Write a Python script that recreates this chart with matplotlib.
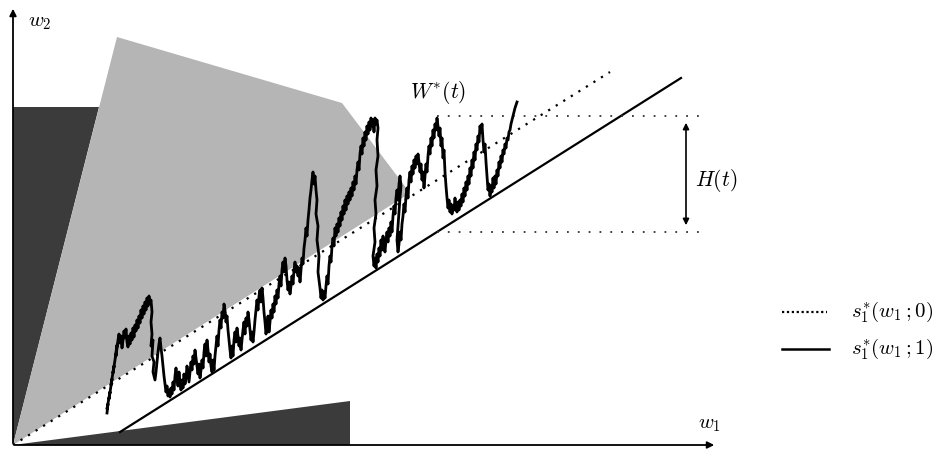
import matplotlib
matplotlib.use("Agg")
import matplotlib.pyplot as plt
from matplotlib.patches import Polygon

plt.rcParams['mathtext.fontset'] = 'cm'

# --- schematic geometry (pixel-like units, y measured downward) ---
dark_left = [(13, 107), (99, 107), (13, 445)]
gray_region = [(13, 445), (117, 37), (342, 103), (410, 193)]
dark_bottom = [(13, 445), (350, 401), (350, 445)]
s0_line_x = [13, 610]
s0_line_y = [445, 72]
s1_line_x = [120, 681]
s1_line_y = [432, 78]
w_star_y = 116
h_low_y = 232
h_x = [437, 702]
arrow_x = 686

# --- path of W(t), piece by piece ---
walk_x_a = [107,108,107,109,110,109,111,112,111,113,114,113,115,116,117,116,118,119,120,121,122,123,124,125,126,127,128,129,130,131,132,133,134,135,136,137,138,139,140,141,142,143,144,145,146,147,148,149,150,151,152]
walk_y_a = [413,404,409,398,392,399,386,379,385,372,366,373,360,352,345,356,340,334,343,336,348,340,331,338,329,342,347,336,344,333,340,328,337,325,331,320,328,316,323,310,318,306,314,302,310,298,306,296,303,300,312]
walk_x_b = [151,152,151,153,152,154,153,155,156,157,158,159,160,161,162,163,164,165,166,167,168,169,170]
walk_y_b = [322,334,346,340,356,362,372,380,372,362,352,344,338,348,356,366,376,384,392,386,396,390,397]
walk_x_c = list(range(171, 231))
walk_y_c = [388,394,382,390,376,368,378,386,372,382,390,380,388,374,384,378,366,374,382,372,362,370,356,364,350,358,366,374,364,378,370,360,368,352,344,356,340,350,362,354,366,372,360,370,356,346,336,346,330,320,328,312,318,304,310,322,316,330,340,350]
walk_x_d = list(range(231, 318)) + [316,318,317,319,318,320,321]
walk_y_d = [358,346,356,340,332,342,328,336,346,338,350,340,330,322,334,318,326,312,320,330,340,332,342,332,320,310,300,310,296,290,302,288,298,312,322,334,326,316,332,322,310,318,304,312,296,304,290,298,284,276,286,270,262,272,258,266,280,290,282,294,286,276,284,270,262,272,266,276,268,282,270,258,264,248,240,228,236,220,210,198,190,180,172,184,176,190,200,214,226,240,256,272,288,298]
walk_x_e = list(range(322, 379))
walk_y_e = [290,300,292,298,286,276,284,266,256,262,246,238,246,228,236,224,232,218,226,212,220,206,214,200,210,196,204,192,200,188,196,182,190,176,184,170,162,170,154,146,154,138,146,132,140,126,134,122,130,118,126,120,132,118,124,120,128]
walk_x_f = [377,378,376,377,375,376,374,375,373,374] + list(range(375, 402)) + [400,399,398,397] + list(range(398, 439))
walk_y_f = [140,156,170,186,200,214,228,242,256,266,258,268,254,262,248,256,240,250,236,246,252,240,232,242,228,236,222,232,216,206,214,198,190,200,184,176,186,198,212,226,240,252,244,232,240,224,216,204,212,196,188,198,180,172,182,166,174,160,168,156,164,154,162,172,164,180,172,188,176,164,172,156,146,154,138,146,130,138,124,130,118,126]
walk_x_g = list(range(439, 518))
walk_y_g = [136,128,146,138,158,150,172,186,198,208,200,212,204,214,206,210,198,208,212,202,210,200,206,194,202,188,196,182,190,176,184,168,176,160,168,152,160,144,150,136,142,126,132,124,140,152,144,162,176,190,184,196,186,192,178,188,176,184,170,176,162,168,156,162,150,154,144,148,138,140,132,130,124,120,116,112,108,105,102]

walk_x = walk_x_a + walk_x_b + walk_x_c + walk_x_d + walk_x_e + walk_x_f + walk_x_g
walk_y = walk_y_a + walk_y_b + walk_y_c + walk_y_d + walk_y_e + walk_y_f + walk_y_g

legend_labels = [r'$s_1^{*}(w_1\,;0)$', r'$s_1^{*}(w_1\,;1)$']

fig = plt.figure(figsize=(9.35, 4.55), dpi=100)
ax = fig.add_axes([0, 0, 1, 1])
ax.set_xlim(0, 935)
ax.set_ylim(455, 0)
ax.axis('off')

ax.add_patch(Polygon(dark_left, closed=True, facecolor='#3b3b3b', edgecolor='none', zorder=1))
ax.add_patch(Polygon(gray_region, closed=True, facecolor='#b5b5b5', edgecolor='none', zorder=2))
ax.add_patch(Polygon(dark_bottom, closed=True, facecolor='#3b3b3b', edgecolor='none', zorder=2))

dot = (0, (1, 3))
ax.plot(s0_line_x, s0_line_y, color='black', lw=1.6, linestyle=dot, zorder=3)
ax.plot(s1_line_x, s1_line_y, color='black', lw=1.6, zorder=3)
ax.plot(h_x, [w_star_y, w_star_y], color='#333333', lw=1.3, linestyle=(0, (1, 5)), zorder=3)
ax.plot(h_x, [h_low_y, h_low_y], color='#333333', lw=1.3, linestyle=(0, (1, 5)), zorder=3)

ax.plot(walk_x, walk_y, color='black', lw=2.0, zorder=4, solid_joinstyle='round')

# axes arrows
ax.annotate('', xy=(717, 445), xytext=(12, 445),
            arrowprops=dict(arrowstyle='-|>', color='black', lw=1.3, mutation_scale=10), zorder=5)
ax.annotate('', xy=(13, 6), xytext=(13, 446),
            arrowprops=dict(arrowstyle='-|>', color='black', lw=1.3, mutation_scale=10), zorder=5)

# H(t) arrow
ax.annotate('', xy=(arrow_x, w_star_y + 4), xytext=(arrow_x, h_low_y - 4),
            arrowprops=dict(arrowstyle='<|-|>', color='black', lw=1.2, mutation_scale=9), zorder=5)

ax.text(28, 22, r'$w_2$', fontsize=15, ha='left', va='center')
ax.text(698, 424, r'$w_1$', fontsize=15, ha='left', va='center')
ax.text(438, 93, r'$W^{*}(t)$', fontsize=15.5, ha='center', va='center')
ax.text(695, 180, r'$H(t)$', fontsize=15.5, ha='left', va='center')

ax.plot([782, 827], [312, 312], color='black', lw=1.6, linestyle=(0, (1, 1.2)))
ax.plot([782, 829], [349, 349], color='black', lw=1.8)
ax.text(851, 312, legend_labels[0], fontsize=15, ha='left', va='center')
ax.text(851, 349, legend_labels[1], fontsize=15, ha='left', va='center')

fig.savefig('out.png', dpi=100)
